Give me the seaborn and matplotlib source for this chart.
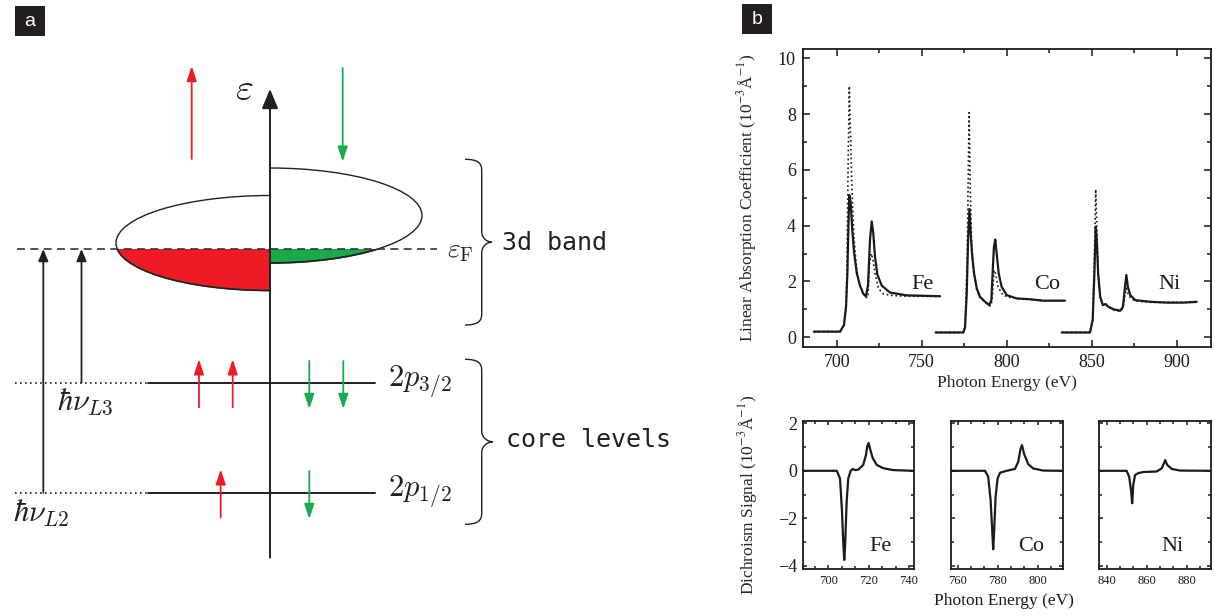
import matplotlib
matplotlib.use("Agg")
import matplotlib.pyplot as plt
import seaborn as sns
from matplotlib.patches import Arc, Ellipse, Rectangle, PathPatch
from matplotlib.path import Path
from matplotlib.ticker import MultipleLocator, AutoMinorLocator

# ---------------- panel b: spectra ----------------
elements = ["Fe", "Co", "Ni"]

# absorption, solid curve
fe_e = [686.6, 702.0, 704.3, 705.5, 706.3, 706.9, 707.4, 708.2, 709.0, 710.2, 711.8, 713.7,
        715.7, 717.2, 718.4, 719.6, 720.6, 721.5, 722.5, 723.9, 726.5, 731.4, 741.2, 760.8]
fe_solid = [0.2, 0.2, 0.44, 1.1, 2.3, 4.0, 5.1, 4.85, 4.0, 3.05, 2.3, 1.85,
            1.55, 1.47, 1.85, 3.5, 4.15, 3.75, 2.9, 2.25, 1.85, 1.6, 1.5, 1.47]
co_e = [758.2, 774.5, 775.5, 776.5, 777.3, 778.1, 778.8, 779.6, 780.8, 782.4, 784.3, 787.3, 789.8,
        791.0, 791.7, 792.5, 793.3, 794.1, 795.3, 797.0, 800.0, 805.9, 813.7, 821.6, 834.3]
co_solid = [0.17, 0.17, 0.36, 1.57, 3.49, 4.6, 3.73, 3.0, 2.29, 1.75, 1.45, 1.27, 1.15,
            1.33, 2.29, 3.24, 3.5, 3.0, 2.29, 1.81, 1.51, 1.39, 1.36, 1.31, 1.31]
ni_e = [832.4, 849.0, 850.6, 851.6, 852.4, 853.0, 853.8, 855.0, 856.6, 858.2, 859.9, 862.9,
        866.8, 868.4, 869.4, 870.4, 871.3, 872.7, 875.6, 884.4, 894.2, 904.0, 911.8]
ni_solid = [0.17, 0.17, 0.62, 2.29, 3.96, 3.49, 2.29, 1.45, 1.15, 1.19, 1.09, 1.0,
            0.95, 1.09, 1.69, 2.23, 1.81, 1.51, 1.33, 1.27, 1.24, 1.24, 1.27]

# absorption, dotted curve
fe_dot_e = [686.6, 702.0, 704.3, 705.5, 706.0, 706.6, 707.4, 708.2, 709.0, 710.2, 711.8, 713.7,
            715.7, 717.2, 718.4, 719.2, 720.3, 721.3, 722.5, 724.5, 727.5, 733.4, 741.2, 760.8]
fe_dotted = [0.2, 0.2, 0.44, 1.1, 2.3, 5.6, 9.0, 7.1, 5.3, 3.5, 2.4, 1.85,
             1.55, 1.43, 1.43, 2.6, 3.0, 2.8, 2.3, 1.75, 1.55, 1.49, 1.47, 1.46]
co_dot_e = [758.2, 774.5, 775.5, 776.8, 777.4, 777.9, 778.5, 779.3, 780.4, 782.4, 784.3, 787.3,
            789.8, 791.0, 791.7, 792.6, 793.4, 794.9, 797.8, 801.7, 805.9, 813.7, 821.6, 834.3]
co_dotted = [0.17, 0.17, 0.36, 2.88, 5.87, 8.05, 5.6, 3.5, 2.4, 1.7, 1.42, 1.25,
             1.12, 1.15, 1.57, 2.4, 2.29, 1.81, 1.51, 1.43, 1.39, 1.36, 1.31, 1.31]
ni_dot_e = [832.4, 849.0, 850.6, 851.6, 852.4, 853.0, 853.8, 855.0, 856.6, 858.2, 859.9, 862.9,
            866.8, 868.4, 869.4, 870.4, 871.3, 873.0, 875.6, 884.4, 911.8]
ni_dotted = [0.17, 0.17, 0.62, 2.9, 5.3, 3.96, 2.29, 1.45, 1.15, 1.17, 1.07, 0.98,
             0.93, 1.05, 1.45, 1.75, 1.57, 1.39, 1.3, 1.25, 1.25]

# dichroism signal
fe_xmcd_e = [687.5, 704.2, 705.8, 706.8, 707.4, 707.9, 708.4, 709.1, 709.9, 711.1, 712.1, 713.2,
             714.9, 717.3, 718.7, 719.3, 720.0, 720.6, 722.0, 724.0, 727.2, 732.2, 742.5]
fe_xmcd = [0.0, 0.0, -0.32, -1.72, -3.0, -3.76, -3.0, -1.3, -0.32, 0.0, 0.08, 0.03,
           0.05, 0.25, 0.67, 1.03, 1.17, 0.96, 0.54, 0.25, 0.11, 0.03, 0.0]
co_xmcd_e = [756.7, 773.7, 775.3, 776.5, 777.3, 777.8, 778.3, 779.0, 780.0, 781.2, 784.5, 788.7,
             790.3, 791.5, 792.2, 793.2, 795.3, 797.8, 802.8, 812.7]
co_xmcd = [0.0, 0.0, -0.25, -1.23, -2.5, -3.31, -2.5, -1.1, -0.32, -0.08, 0.0, 0.08,
           0.38, 0.94, 1.08, 0.73, 0.28, 0.1, 0.01, 0.0]
ni_xmcd_e = [836.2, 850.0, 851.3, 852.3, 852.8, 853.3, 854.2, 855.8, 858.3, 865.0, 867.5, 868.7,
             869.3, 870.3, 872.5, 876.7, 892.2]
ni_xmcd = [0.0, 0.0, -0.25, -0.89, -1.37, -0.61, -0.18, -0.1, -0.05, -0.03, 0.1, 0.32,
           0.45, 0.25, 0.08, 0.01, 0.0]

xmcd_xlims = [(687.3, 742.5), (756.7, 812.7), (836.2, 892.2)]
xmcd_ticks = [[700, 720, 740], [760, 780, 800], [840, 860, 880]]
top_label_pos = [(744.1, 1.9), (816.2, 1.9), (889.0, 1.9)]
bottom_label_pos = [(720.6, -3.2), (790.2, -3.2), (867.5, -3.2)]

# ---------------- panel a: schematic layout (pixel units) ----------------
axis_x, axis_bottom, axis_top = 270, 557.7, 89
fermi_y = 249
left_band = dict(cy=243, a=154, b=47.5)   # spin-up half
right_band = dict(cy=215.5, a=152, b=47.5)  # spin-down half
level_y = [382.7, 492.7]
level_labels = [r"$2p_{3/2}$", r"$2p_{1/2}$"]
photon_x = [81.5, 43.3]
photon_labels = [r"$\hbar\nu_{L3}$", r"$\hbar\nu_{L2}$"]
photon_label_pos = [(56.7, 401.7), (13.3, 513)]
band_up_x, band_down_x = [191.7], [342.7]
core_up_x = [[199, 232.7], [220.7]]
core_down_x = [[309.3, 343.3], [309.3]]

RED = "#ed1c24"
GREEN = "#18aa4d"
INK = "#231f20"
W, H = 1215, 616

sns.set_style("ticks")
plt.rcParams.update({
    "font.family": ["Liberation Serif", "DejaVu Serif"],
    "mathtext.fontset": "stix",
    "xtick.direction": "in",
    "ytick.direction": "in",
    "xtick.top": True,
    "ytick.right": True,
    "axes.linewidth": 1.3,
    "axes.edgecolor": "#1a1a1a",
    "xtick.color": "#1a1a1a",
    "ytick.color": "#1a1a1a",
})

fig = plt.figure(figsize=(W / 100, H / 100), dpi=100)
ax0 = fig.add_axes([0, 0, 1, 1])
ax0.set_xlim(0, W)
ax0.set_ylim(H, 0)
ax0.axis("off")


def px_axes(l, t, r, b):
    return fig.add_axes([l / W, 1 - b / H, (r - l) / W, (b - t) / H])


def arrow(x, y0, y1, color, lw, scale, hl, hw):
    ax0.annotate("", xy=(x, y1), xytext=(x, y0),
                 arrowprops=dict(arrowstyle=f"-|>,head_length={hl},head_width={hw}",
                                 color=color, lw=lw, shrinkA=0, shrinkB=0,
                                 mutation_scale=scale))


def brace(x0, xm, xt, y0, y1, r=11):
    ym = (y0 + y1) / 2
    verts = [(x0, y0), (xm - 3, y0), (xm, y0 + r * 0.4), (xm, y0 + r),
             (xm, ym - r),
             (xm, ym - r * 0.3), (xt - 4, ym), (xt, ym),
             (xt - 4, ym), (xm, ym + r * 0.3), (xm, ym + r),
             (xm, y1 - r),
             (xm, y1 - r * 0.4), (xm - 3, y1), (x0, y1)]
    codes = [Path.MOVETO] + [Path.CURVE4] * 3 + [Path.LINETO] + [Path.CURVE4] * 6 + \
            [Path.LINETO] + [Path.CURVE4] * 3
    ax0.add_patch(PathPatch(Path(verts, codes), fc="none", ec=INK, lw=1.0))


# ---- panel a ----
# filled parts of the band below the Fermi level
red_fill = Ellipse((axis_x, left_band["cy"]), 2 * left_band["a"], 2 * left_band["b"],
                   fc=RED, ec="#444444", lw=1.3)
ax0.add_patch(red_fill)
red_fill.set_clip_path(Rectangle((axis_x - 200, fermi_y), 200, 100, transform=ax0.transData))
green_fill = Ellipse((axis_x, right_band["cy"]), 2 * right_band["a"], 2 * right_band["b"],
                     fc=GREEN, ec="#333333", lw=1.3)
ax0.add_patch(green_fill)
green_fill.set_clip_path(Rectangle((axis_x, fermi_y), 200, 100, transform=ax0.transData))

ax0.add_patch(Arc((axis_x, left_band["cy"]), 2 * left_band["a"], 2 * left_band["b"],
                  theta1=90, theta2=270, color=INK, lw=1.0))
ax0.add_patch(Arc((axis_x, right_band["cy"]), 2 * right_band["a"], 2 * right_band["b"],
                  theta1=-90, theta2=90, color=INK, lw=1.0))

ax0.plot([17, 437], [fermi_y, fermi_y], color="#333333", lw=1.2, ls=(0, (4.8, 3.2)))
ax0.text(446.7, 251, r"$\varepsilon_{\rm F}$", fontsize=20, math_fontfamily="cm",
         color=INK, ha="left", va="center")

# energy axis
arrow(axis_x, axis_bottom, axis_top, INK, 1.4, 20, 0.6, 0.25)
ax0.text(244.5, 90, r"$\varepsilon$", fontsize=28, math_fontfamily="cm",
         color=INK, ha="center", va="center")

# core levels
for y, lab in zip(level_y, level_labels):
    ax0.plot([15, 148.3], [y, y], color=INK, lw=1.2, ls=(0, (1, 2)))
    ax0.plot([148.3, 375], [y, y], color=INK, lw=1.4)
    ax0.text(388.3, y - 1, lab, fontsize=22, math_fontfamily="cm", color=INK,
             ha="left", va="center")

# photon transitions
for x, y, lab, (tx, ty) in zip(photon_x, level_y, photon_labels, photon_label_pos):
    arrow(x, y, fermi_y, INK, 1.3, 12, 0.6, 0.25)
    ax0.text(tx, ty, lab, fontsize=22, math_fontfamily="cm", color=INK,
             ha="left", va="center")

# spin arrows
for x in band_up_x:
    arrow(x, 159, 66, RED, 1.3, 15, 0.6, 0.2)
for x in band_down_x:
    arrow(x, 68, 161.7, GREEN, 1.3, 15, 0.6, 0.2)
for xs, y in zip(core_up_x, level_y):
    for x in xs:
        arrow(x, y + 24.6, y - 23.4, RED, 1.3, 15, 0.6, 0.2)
for xs, y in zip(core_down_x, level_y):
    for x in xs:
        arrow(x, y - 21.7, y + 26.3, GREEN, 1.3, 15, 0.6, 0.2)

brace(465, 481.7, 491.7, 159.3, 325)
brace(465, 481.7, 492.7, 359.3, 524.3)
ax0.text(501.7, 242.7, "3d band", fontsize=18, family="DejaVu Sans Mono", color=INK,
         ha="left", va="center")
ax0.text(506, 440, "core levels", fontsize=18, family="DejaVu Sans Mono", color=INK,
         ha="left", va="center")

# panel tags
for (bx, by), tag in zip([(15, 6), (742, 4)], ["a", "b"]):
    ax0.add_patch(Rectangle((bx, by), 30, 30, fc=INK, ec="none"))
    ax0.text(bx + 15, by + 15, tag, color="white", fontsize=14, family="Liberation Sans",
             ha="center", va="center")

# ---- panel b, top: absorption ----
ax = px_axes(802.7, 49.3, 1211, 346.7)
for e, y in zip([fe_e, co_e, ni_e], [fe_solid, co_solid, ni_solid]):
    sns.lineplot(x=e, y=y, ax=ax, color="#1a1a1a", lw=1.6, sort=False, estimator=None)
for e, y in zip([fe_dot_e, co_dot_e, ni_dot_e], [fe_dotted, co_dotted, ni_dotted]):
    sns.lineplot(x=e, y=y, ax=ax, color="#1a1a1a", lw=1.2, ls=":", sort=False, estimator=None)
for name, (px, py) in zip(elements, top_label_pos):
    ax.text(px, py, name, fontsize=16, ha="left", va="center", color="#1a1a1a")
ax.set_xlim(680, 920.2)
ax.set_ylim(-0.34, 10.32)
ax.xaxis.set_major_locator(MultipleLocator(50))
ax.xaxis.set_minor_locator(MultipleLocator(25))
ax.yaxis.set_major_locator(MultipleLocator(2))
ax.yaxis.set_minor_locator(MultipleLocator(1))
ax.tick_params(which="major", length=5, width=1.1, labelsize=13, pad=5)
ax.tick_params(which="minor", length=3, width=1.1)
ax.set_xlabel("Photon Energy (eV)", fontsize=12.5, labelpad=3)
ax.set_ylabel("Linear Absorption Coefficient (10$^{-3}$Å$^{-1}$)", fontsize=12.5)
ax.yaxis.set_label_coords(-0.106, 0.5)

# ---- panel b, bottom: dichroism ----
xmcd_e = [fe_xmcd_e, co_xmcd_e, ni_xmcd_e]
xmcd_v = [fe_xmcd, co_xmcd, ni_xmcd]
lefts = [802.7, 951, 1099]
widths = [111.3, 112, 112]
for i in range(3):
    axb = px_axes(lefts[i], 421, lefts[i] + widths[i], 569)
    sns.lineplot(x=xmcd_e[i], y=xmcd_v[i], ax=axb, color="#1a1a1a", lw=1.6,
                 sort=False, estimator=None)
    axb.text(*bottom_label_pos[i], elements[i], fontsize=16, ha="left", va="center",
             color="#1a1a1a")
    axb.set_xlim(*xmcd_xlims[i])
    axb.set_ylim(-4.14, 2.1)
    axb.set_xticks(xmcd_ticks[i])
    axb.xaxis.set_minor_locator(AutoMinorLocator(3))
    axb.yaxis.set_major_locator(MultipleLocator(2))
    axb.yaxis.set_minor_locator(MultipleLocator(1))
    axb.tick_params(axis="x", which="major", length=3, width=1.1, labelsize=9, pad=4)
    axb.tick_params(axis="y", which="major", length=3, width=1.1, labelsize=13, pad=4)
    axb.tick_params(which="minor", length=2, width=1.1)
    if i == 0:
        axb.set_ylabel("Dichroism Signal (10$^{-3}$Å$^{-1}$)", fontsize=12.5)
        axb.yaxis.set_label_coords(-0.384, 0.5)
    else:
        axb.tick_params(labelleft=False)

ax0.text(1004, 601, "Photon Energy (eV)", fontsize=12.5, ha="center", va="center",
         color="#1a1a1a")

fig.savefig("out.png", dpi=100)
